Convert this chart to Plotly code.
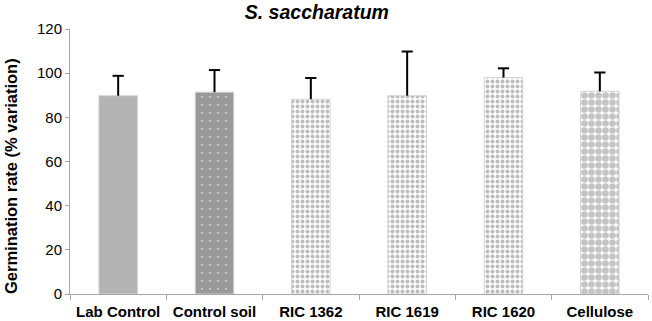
import plotly.graph_objects as go

categories = ["Lab Control", "Control soil", "RIC 1362", "RIC 1619", "RIC 1620", "Cellulose"]
values = [89.8, 91.4, 88.2, 89.8, 98.0, 91.8]
errors = [9.0, 10.0, 9.6, 20.0, 4.2, 8.5]
title_text = "S. saccharatum"
y_title = "Germination rate (% variation)"
y_ticks = [0, 20, 40, 60, 80, 100, 120]

FONT = "Liberation Sans, Arial"

patterns = [
    dict(shape="", fgcolor="#b3b3b3", bgcolor="#b3b3b3"),
    dict(shape=".", fgcolor="#ffffff", bgcolor="#999999", size=8, solidity=0.06),
    dict(shape=".", fgcolor="#7a7a7a", bgcolor="#ffffff", size=5, solidity=0.5),
    dict(shape=".", fgcolor="#7a7a7a", bgcolor="#ffffff", size=5, solidity=0.5),
    dict(shape=".", fgcolor="#7a7a7a", bgcolor="#ffffff", size=5, solidity=0.5),
    dict(shape=".", fgcolor="#8a8a8a", bgcolor="#ffffff", size=7, solidity=0.7),
]

fig = go.Figure()
for i, c in enumerate(categories):
    fig.add_trace(go.Bar(
        x=[c], y=[values[i]],
        width=0.4,
        marker=dict(color=patterns[i]["bgcolor"], pattern=patterns[i],
                    line=dict(color="#d4d4d4", width=1)),
        showlegend=False, hoverinfo="skip",
    ))

# error bars (upper only): stems + caps
stem_x, stem_y = [], []
for c, v, e in zip(categories, values, errors):
    stem_x += [c, c, None]
    stem_y += [v, v + e, None]
fig.add_trace(go.Scatter(x=stem_x, y=stem_y, mode="lines",
                         line=dict(color="black", width=2), showlegend=False,
                         hoverinfo="skip"))
fig.add_trace(go.Scatter(x=categories, y=[v + e for v, e in zip(values, errors)],
                         mode="markers",
                         marker=dict(symbol="line-ew", size=8,
                                     line=dict(color="black", width=2)),
                         showlegend=False, hoverinfo="skip"))

fig.update_layout(
    width=652, height=321,
    margin=dict(l=70, r=4, t=29, b=27),
    paper_bgcolor="white", plot_bgcolor="white",
    barmode="overlay",
    title=dict(text="<b><i>" + title_text + "</i></b>", x=0.486, xanchor="center",
               xref="container", yref="container",
               y=1 - 12 / 321, yanchor="middle",
               font=dict(family=FONT, size=19.5, color="black")),
    font=dict(family=FONT, color="black"),
    annotations=[dict(
        text="<b>" + y_title + "</b>", textangle=-90,
        xref="paper", yref="paper",
        x=(11 - 70) / 578, y=(294 - 176) / 265,
        xanchor="center", yanchor="middle", showarrow=False,
        font=dict(size=16.5, family=FONT, color="black"),
    )],
)
fig.update_xaxes(
    categoryorder="array", categoryarray=categories,
    showline=True, linecolor="#a6a6a6", linewidth=1,
    ticks="outside", tickson="boundaries", ticklen=5, tickcolor="#a6a6a6",
    tickfont=dict(size=15, family=FONT, color="black"),
    tickprefix="<b>", ticksuffix="</b>", ticklabelstandoff=4,
    range=[-0.5, 5.5], automargin=False,
)
fig.update_yaxes(
    range=[0, 120], tickvals=y_ticks,
    showline=True, linecolor="#a6a6a6", linewidth=1,
    ticks="outside", ticklen=4, tickcolor="#a6a6a6",
    showgrid=False, zeroline=False, automargin=False,
    tickfont=dict(size=15, family=FONT, color="black"),
)
fig.write_html("out.html", config={"displayModeBar": False},
               post_script="document.body.style.margin='0';")
